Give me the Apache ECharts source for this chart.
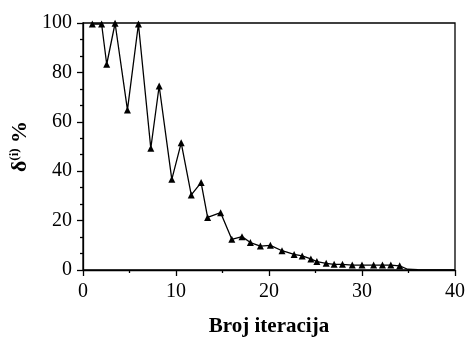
<!DOCTYPE html>
<html>
<head>
<meta charset="utf-8">
<script src="https://cdn.jsdelivr.net/npm/echarts@6/dist/echarts.min.js"></script>
<style>
  html, body { margin: 0; padding: 0; background: #fff; }
  #chart { width: 468px; height: 339px; }
</style>
</head>
<body>
<div id="chart"></div>
<script>
// iteration number and delta(i) in percent
const iterations = [1, 2, 2.55, 3.45, 4.78, 5.96, 7.29, 8.19, 9.55, 10.56, 11.64, 12.7, 13.4, 14.8,
  16, 17.1, 18, 19.07, 20.15, 21.4, 22.7, 23.57, 24.5, 25.15, 26.15, 27, 27.9, 28.95, 30,
  31.25, 32.2, 33.1, 34.05];
const deltas = [99.6, 99.6, 83.3, 99.9, 64.8, 99.6, 49.3, 74.5, 36.7, 51.5, 30.4, 35.4, 21.3, 23.2,
  12.4, 13.5, 11.1, 9.7, 10.0, 7.8, 6.3, 5.7, 4.5, 3.4, 2.7, 2.3, 2.3, 2.0, 2.0,
  2.0, 2.0, 2.0, 1.7];
// tail of the curve that is drawn without markers
const tailX = [34.9, 36, 38, 40];
const tailY = [0.3, 0.1, 0.05, 0];

const serif = 'Liberation Serif';

const points = iterations.map((x, i) => [x, deltas[i]]);
tailX.forEach((x, i) => points.push({ value: [x, tailY[i]], symbol: 'none' }));

const chart = echarts.init(document.getElementById('chart'));
chart.setOption({
  animation: false,
  grid: {
    left: 83, right: 13, top: 23, bottom: 69,
    containLabel: false, outerBoundsMode: 'none',
    show: true, borderColor: '#000', borderWidth: 1.3
  },
  xAxis: {
    type: 'value',
    min: 0, max: 40, interval: 10,
    name: 'Broj iteracija',
    nameLocation: 'middle',
    nameGap: 46,
    nameTextStyle: { fontFamily: serif, fontSize: 21, fontWeight: 'bold', color: '#000' },
    axisLine: { lineStyle: { color: '#000', width: 1.3 } },
    axisTick: { length: 6, lineStyle: { color: '#000', width: 1.3 } },
    minorTick: { show: true, splitNumber: 2, length: 3, lineStyle: { color: '#000', width: 1.3 } },
    axisLabel: { fontFamily: serif, fontSize: 20, color: '#000', margin: 12 },
    splitLine: { show: false }
  },
  yAxis: {
    type: 'value',
    min: 0, max: 100, interval: 20,
    name: '{a|δ}{b|(i)}{a| %}',
    nameLocation: 'middle',
    nameRotate: 90,
    nameGap: 45,
    nameTextStyle: {
      rich: {
        a: { fontFamily: serif, fontSize: 22, fontWeight: 'bold', color: '#000' },
        b: { fontFamily: serif, fontSize: 13, fontWeight: 'bold', color: '#000', padding: [0, 0, 11, 0] }
      }
    },
    axisLine: { show: true, lineStyle: { color: '#000', width: 1.3 } },
    axisTick: { show: true, length: 6, lineStyle: { color: '#000', width: 1.3 } },
    minorTick: { show: true, splitNumber: 3, length: 3, lineStyle: { color: '#000', width: 1.3 } },
    axisLabel: { fontFamily: serif, fontSize: 20, color: '#000', margin: 11 },
    splitLine: { show: false }
  },
  series: [{
    type: 'line',
    data: points,
    symbol: 'triangle',
    symbolSize: 7,
    lineStyle: { color: '#000', width: 1.3 },
    itemStyle: { color: '#000' }
  }]
});
</script>
</body>
</html>
